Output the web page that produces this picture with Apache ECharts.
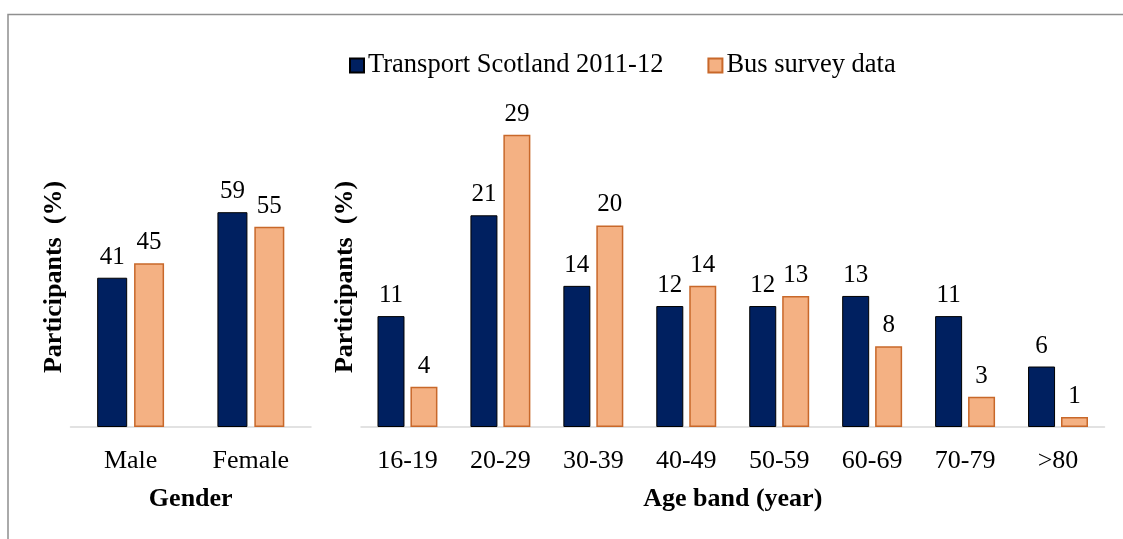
<!DOCTYPE html>
<html>
<head>
<meta charset="utf-8">
<script src="https://cdn.jsdelivr.net/npm/echarts@6/dist/echarts.min.js"></script>
<style>
  html, body { margin: 0; padding: 0; background: #fff; }
  #chart { width: 1123px; height: 539px; }
</style>
</head>
<body>
<div id="chart"></div>
<script>
// Participants (%) by gender and by age band
const seriesNames = ['Transport Scotland 2011-12', 'Bus survey data'];

const genderCats = ['Male', 'Female'];
const genderTransport = [41, 59];
const genderBus = [45, 55];

const ageCats = ['16-19', '20-29', '30-39', '40-49', '50-59', '60-69', '70-79', '>80'];
const ageTransport = [11, 21, 14, 12, 12, 13, 11, 6];
const ageBus = [4, 29, 20, 14, 13, 8, 3, 1];

const FONT = "'Liberation Serif', 'Times New Roman', serif";
const NAVY = '#002060';
const PEACH = '#F4B183';
const PEACH_EDGE = '#C8682A';

const chart = echarts.init(document.getElementById('chart'), null, { renderer: 'canvas' });

const labelStyle = {
  show: true,
  position: 'top',
  distance: 8,
  color: '#000',
  fontFamily: FONT,
  fontSize: 25
};

function xAxisFor(idx, cats, name) {
  return {
    type: 'category',
    gridIndex: idx,
    data: cats,
    name: name,
    nameLocation: 'middle',
    nameGap: 59,
    nameTextStyle: { fontFamily: FONT, fontSize: 26, fontWeight: 'bold', color: '#000' },
    axisLine: { show: true, lineStyle: { color: '#d9d9d9', width: 1.5 } },
    axisTick: { show: false },
    axisLabel: { color: '#000', fontFamily: FONT, fontSize: 26, margin: 21 },
    splitLine: { show: false }
  };
}

function yAxisFor(idx, max) {
  return {
    type: 'value',
    gridIndex: idx,
    min: 0,
    max: max,
    name: 'Participants  (%)',
    nameLocation: 'middle',
    nameGap: 3,
    nameRotate: 90,
    nameTextStyle: { fontFamily: FONT, fontSize: 26, fontWeight: 'bold', color: '#000' },
    axisLine: { show: false },
    axisTick: { show: false },
    axisLabel: { show: false },
    splitLine: { show: false }
  };
}

function barSeries(name, data, axisIdx, width, gap, isNavy) {
  return {
    name: name,
    type: 'bar',
    xAxisIndex: axisIdx,
    yAxisIndex: axisIdx,
    data: data,
    barWidth: width,
    barGap: gap,
    itemStyle: isNavy
      ? { color: NAVY, borderColor: '#000', borderWidth: 1 }
      : { color: PEACH, borderColor: PEACH_EDGE, borderWidth: 1.5 },
    label: labelStyle,
    emphasis: { disabled: true },
    animation: false
  };
}

chart.setOption({
  backgroundColor: '#fff',
  animation: false,
  textStyle: { fontFamily: FONT },
  graphic: [
    {
      type: 'polyline',
      shape: { points: [[8, 539], [8, 14.5], [1123, 14.5]] },
      style: { stroke: '#8f8f8f', lineWidth: 1.5, fill: null },
      silent: true
    }
  ],
  legend: {
    data: seriesNames,
    left: 344,
    top: 47,
    icon: 'rect',
    itemWidth: 14,
    itemHeight: 14,
    itemGap: 44,
    textStyle: { fontFamily: FONT, fontSize: 26.5, color: '#000', padding: [0, 0, 0, -1] },
    selectedMode: false
  },
  grid: [
    { left: 70.5, width: 240.5, top: 127, height: 300, containLabel: false },
    { left: 361, width: 743.5, top: 127, height: 300, containLabel: false }
  ],
  xAxis: [
    xAxisFor(0, genderCats, 'Gender'),
    xAxisFor(1, ageCats, 'Age band (year)')
  ],
  yAxis: [
    yAxisFor(0, 82.4),
    yAxisFor(1, 29.76)
  ],
  series: [
    barSeries(seriesNames[0], genderTransport, 0, 30, '23%', true),
    barSeries(seriesNames[1], genderBus, 0, 30, '23%', false),
    barSeries(seriesNames[0], ageTransport, 1, 27, '22%', true),
    barSeries(seriesNames[1], ageBus, 1, 27, '22%', false)
  ]
});
</script>
</body>
</html>
